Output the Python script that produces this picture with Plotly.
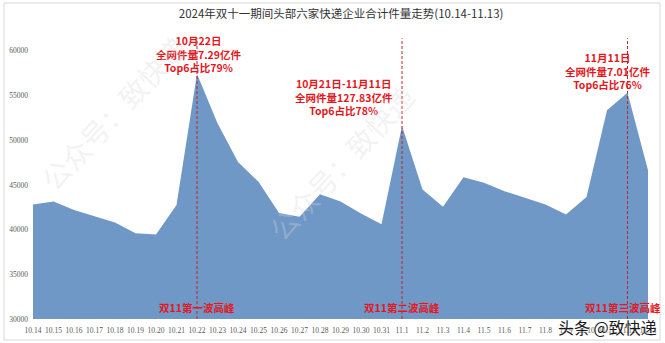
import plotly.graph_objects as go

dates = ["10.14", "10.15", "10.16", "10.17", "10.18", "10.19", "10.20", "10.21", "10.22",
         "10.23", "10.24", "10.25", "10.26", "10.27", "10.28", "10.29", "10.30", "10.31",
         "11.1", "11.2", "11.3", "11.4", "11.5", "11.6", "11.7", "11.8", "11.9", "11.10",
         "11.11", "11.12", "11.13"]
volumes = [42800, 43150, 42200, 41500, 40800, 39600, 39450, 42750, 57400,
           51900, 47550, 45350, 41850, 41450, 43950, 43150, 41800, 40600,
           51600, 44500, 42550, 45850, 45250, 44300, 43550, 42800, 41700, 43650,
           53350, 55300, 46650]
y_ticks = [30000, 35000, 40000, 45000, 50000, 55000, 60000]
peak_dates = ["10.22", "11.1", "11.12"]
peak_labels = ["双11第一波高峰", "双11第二波高峰", "双11第三波高峰"]
note_texts = [
    "10月22日<br>全网件量7.29亿件<br>Top6占比79%",
    "10月21日-11月11日<br>全网件量127.83亿件<br>Top6占比78%",
    "11月11日<br>全网件量7.01亿件<br>Top6占比76%",
]
title_text = "2024年双十一期间头部六家快递企业合计件量走势(10.14-11.13)"

RED = "#E3171D"
LINE_RED = "#B8282E"
CJK = "Noto Sans CJK SC"

W, H = 665, 343
ML, MR, MT, MB = 33, 17, 24, 24
plot_w = W - ML - MR
plot_h = H - MT - MB


def px_x(px):
    return (px - ML) / plot_w


def px_y(py):
    return (H - MB - py) / plot_h


fig = go.Figure()
fig.add_trace(go.Scatter(
    x=dates, y=volumes, mode="lines", fill="tozeroy",
    line=dict(width=0, color="#6F98C6"), fillcolor="#6F98C6",
    hoverinfo="x+y", showlegend=False,
))

# dashed peak markers
for d in peak_dates:
    i = dates.index(d)
    fig.add_shape(type="line", xref="x", yref="y", x0=i, x1=i, y0=30000, y1=61400,
                  line=dict(color=LINE_RED, width=1, dash="3px,2px"))

# bottom labels
label_shift = [0, 0, -5]
for d, t, s in zip(peak_dates, peak_labels, label_shift):
    fig.add_annotation(x=dates.index(d), y=31250, xref="x", yref="y", text=t,
                       showarrow=False, xshift=s,
                       font=dict(family=CJK, size=10.5, color=RED, weight="bold"))

# top notes
note_pos = [(8.07, 59640), (15.17, 54830), (28.0, 57740)]
for (nx, ny), t in zip(note_pos, note_texts):
    fig.add_annotation(x=nx, y=ny, xref="x", yref="y", text=t, showarrow=False,
                       align="center",
                       font=dict(family=CJK, size=10.5, color=RED, weight="bold"))

# watermarks
for wx, wy in [(0.13, 0.70), (0.50, 0.53)]:
    fig.add_annotation(x=wx, y=wy, xref="paper", yref="paper", text="公众号：致快递",
                       showarrow=False, textangle=-47, xanchor="center", yanchor="middle",
                       font=dict(family=CJK, size=28, color="rgba(215,215,215,0.33)"))
fig.add_annotation(x=px_x(607), y=px_y(327), xref="paper", yref="paper", text="头条 @致快递",
                   showarrow=False, xanchor="center", yanchor="middle",
                   font=dict(family=CJK, size=16, color="#1a1a1a", shadow="0px 0px 2px white"))

fig.update_layout(
    width=W, height=H,
    margin=dict(l=ML, r=MR, t=MT, b=MB),
    paper_bgcolor="white", plot_bgcolor="white",
    template="none",
    title=dict(text=title_text, x=0.513, xanchor="center", y=0.958, yanchor="middle",
               font=dict(family=CJK, size=11.5, color="#333333")),
    xaxis=dict(type="category", range=[0, len(dates) - 1], tickmode="array",
               tickvals=dates, ticktext=dates, showgrid=False, zeroline=False,
               showline=False, ticks="", automargin=False, ticklabelstandoff=5,
               tickfont=dict(family="Liberation Serif", size=7.5, color="#595959")),
    yaxis=dict(range=[30000, 63000], tickmode="array", tickvals=y_ticks,
               ticktext=[str(v) for v in y_ticks], showgrid=False, zeroline=False,
               showline=False, ticks="", automargin=False, ticklabelstandoff=4,
               tickfont=dict(family="Liberation Serif", size=7.5, color="#595959")),
)

# outer frame
fig.add_shape(type="rect", xref="paper", yref="paper",
              x0=px_x(4), x1=px_x(660), y0=px_y(340), y1=px_y(3),
              line=dict(color="#D9D9D9", width=1), layer="below")

fig.write_html("out.html")
